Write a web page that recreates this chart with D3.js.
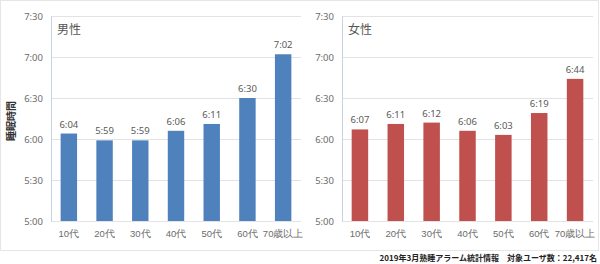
<!DOCTYPE html>
<html><head><meta charset="utf-8">
<script src="https://cdn.jsdelivr.net/npm/d3@7"></script>
<style>
html,body{margin:0;padding:0;background:#fff;}
svg{display:block;font-family:"Noto Sans CJK JP","Noto Sans",sans-serif;}
</style></head>
<body>
<svg id="c" width="600" height="264"></svg>
<script>
const categories = ["10代","20代","30代","40代","50代","60代","70歳以上"];
const maleLabels = ["6:04","5:59","5:59","6:06","6:11","6:30","7:02"];
const femaleLabels = ["6:07","6:11","6:12","6:06","6:03","6:19","6:44"];
const yTicks = ["5:00","5:30","6:00","6:30","7:00","7:30"];
const toMin = s => { const [h,m] = s.split(":").map(Number); return h*60+m; };
const maleValues = maleLabels.map(toMin);
const femaleValues = femaleLabels.map(toMin);

const svg = d3.select("#c");
svg.append("rect").attr("x",0.5).attr("y",0.5).attr("width",598).attr("height",250)
  .attr("fill","none").attr("stroke","#e6e6e6");

svg.append("text").attr("transform","translate(15,121) rotate(-90)")
  .attr("text-anchor","middle").attr("font-size",10).attr("font-weight","bold")
  .attr("fill","#333").text("睡眠時間");

svg.append("text").attr("x",597).attr("y",261).attr("text-anchor","end")
  .attr("font-size",8).attr("font-weight","bold").attr("fill","#222")
  .text("2019年3月熟睡アラーム統計情報　対象ユーザ数：22,417名");

const y = d3.scaleLinear().domain([300,450]).range([221,16]);

function panel(x0, x1, title, values, labels, color) {
  const g = svg.append("g");
  const x = d3.scaleBand().domain(categories).range([x0,x1]).paddingInner(0.54).paddingOuter(0.27);
  // grid
  g.selectAll("line.grid").data(yTicks.map(toMin)).join("line")
    .attr("x1",x0).attr("x2",x1).attr("y1",d=>y(d)+0.5).attr("y2",d=>y(d)+0.5)
    .attr("stroke","#e3e3e3").attr("stroke-width",1);
  // y axis
  const ya = d3.axisLeft(y).tickValues(yTicks.map(toMin)).tickSize(0).tickPadding(8)
    .tickFormat((d,i)=>yTicks[i]);
  const yg = g.append("g").attr("transform",`translate(${x0},0)`).call(ya);
  yg.select(".domain").attr("stroke","#c5d3e2");
  yg.selectAll("text").attr("font-size",9.5).attr("fill","#6b6b6b").attr("font-family","Noto Sans, sans-serif");
  // bars
  g.selectAll("rect.bar").data(values).join("rect")
    .attr("x",(d,i)=>x(categories[i])).attr("width",x.bandwidth())
    .attr("y",d=>y(d)).attr("height",d=>y(300)-y(d)).attr("fill",color);
  // data labels
  g.selectAll("text.lbl").data(values).join("text")
    .attr("x",(d,i)=>x(categories[i])+x.bandwidth()/2).attr("y",d=>y(d)-6)
    .attr("text-anchor","middle").attr("font-size",9.5).attr("fill","#595959")
    .attr("font-family","Noto Sans, sans-serif")
    .text((d,i)=>labels[i]);
  // x axis
  const xa = d3.axisBottom(x).tickSize(0).tickPadding(9);
  const xg = g.append("g").attr("transform",`translate(0,${y(300)})`).call(xa);
  xg.select(".domain").remove();
  xg.selectAll("text").attr("font-size",9.5).attr("fill","#6b6b6b");
  // title
  g.append("text").attr("x",x0+6).attr("y",34).attr("font-size",12).attr("fill","#555").text(title);
}
panel(51, 301, "男性", maleValues, maleLabels, "#4f81bd");
panel(342, 593, "女性", femaleValues, femaleLabels, "#c0504d");
</script>
</body></html>
